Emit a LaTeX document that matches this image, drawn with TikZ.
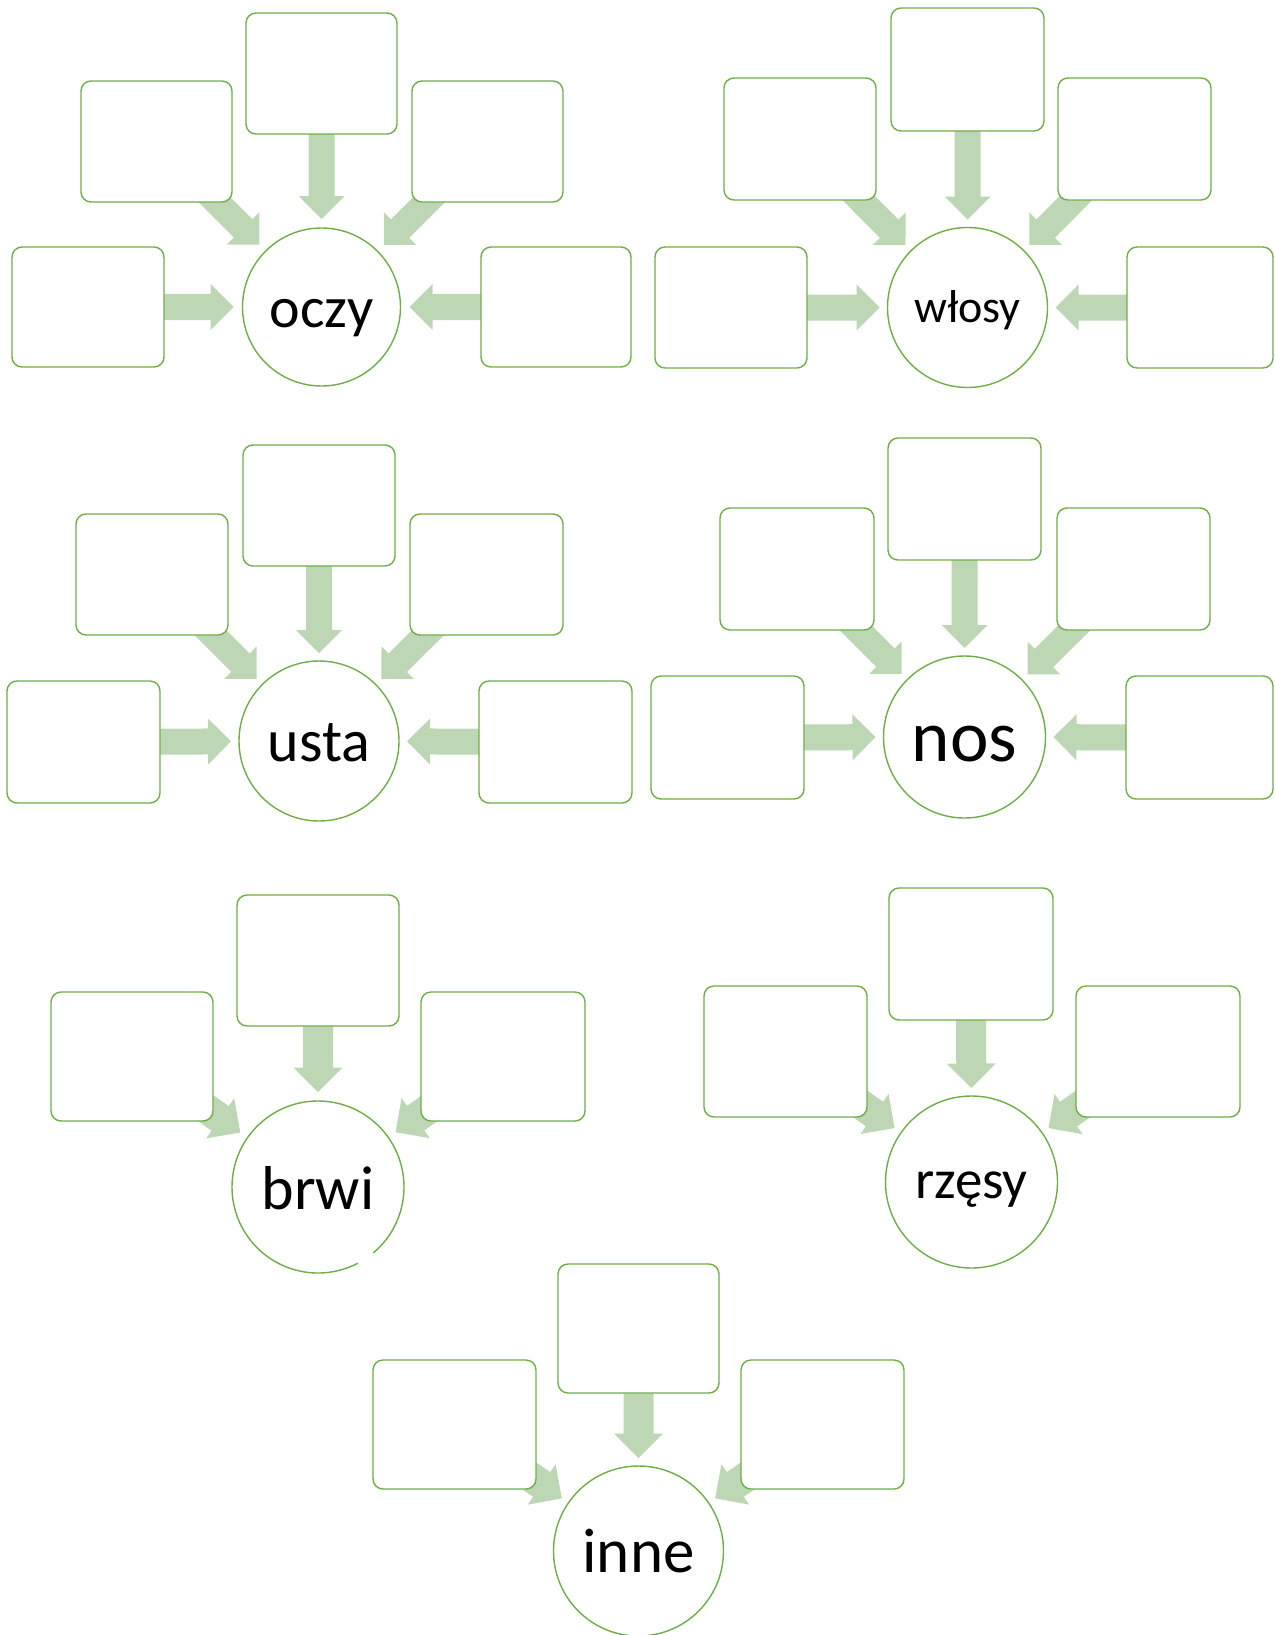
\documentclass[tikz,border=0pt]{standalone}
\usepackage{fontspec}
\setmainfont{Carlito}
\usetikzlibrary{calc}
\pgfdeclarelayer{background}
\pgfsetlayers{background,main}
\definecolor{gline}{HTML}{70AD47}
\definecolor{garr}{HTML}{BDD6B4}
\tikzset{
  bx/.style={draw=gline, line width=1.4pt, fill=white, rounded corners=10pt, inner sep=0pt},
  cir/.style={circle, draw=gline, line width=1.4pt, fill=white, inner sep=0pt, text=black, text depth=0pt},
  cirnd/.style={circle, fill=white, inner sep=0pt, text=black, text depth=0pt},
  ring/.style={draw=gline, line width=1.4pt},
  arr/.style={fill=garr},
}
% box by corners: name, x1, y1, x2, y2
\newcommand\boxat[5]{%
  \pgfmathsetmacro\bw{#4-#2}\pgfmathsetmacro\bh{#5-#3}%
  \node[bx, minimum width=\bw pt, minimum height=\bh pt] (#1) at ({(#2+#4)/2},{(#3+#5)/2}) {};}
% block arrow: box, circle, tip distance, shaft half, head half, head length
\newcommand\blk[6]{%
  \begin{pgfonlayer}{background}
  \pgfmathsetmacro\tipd{#3}\pgfmathsetmacro\backd{#3+#6}%
  \coordinate (T) at ($(#2.center)!\tipd pt!(#1.center)$);
  \coordinate (K) at ($(#2.center)!\backd pt!(#1.center)$);
  \fill[arr] (T) -- ($(K)!#5pt!90:(#1.center)$) -- ($(K)!#4pt!90:(#1.center)$)
    -- ($(#1.center)!#4pt!-90:(K)$) -- ($(#1.center)!#4pt!90:(K)$)
    -- ($(K)!#4pt!-90:(#1.center)$) -- ($(K)!#5pt!-90:(#1.center)$) -- cycle;
  \end{pgfonlayer}}
\begin{document}
\begin{tikzpicture}[x=1pt, y=-1pt]
\useasboundingbox (0,0) rectangle (1274,1635);
% ---------- oczy ----------
\boxat{a1t}{246}{13}{397}{134}
\boxat{a1ul}{81}{81}{232}{202}
\boxat{a1ur}{412}{81}{563}{202}
\boxat{a1l}{12}{247}{164}{367}
\boxat{a1r}{481}{247}{631}{367}
\node[cir, minimum size=158pt, text height=40pt] (c1) at (321.5,307) {\fontsize{58}{60}\selectfont oczy};
\foreach \b in {a1t,a1ul,a1ur,a1l,a1r} {\blk{\b}{c1}{88}{13}{23}{23}}
% ---------- wlosy ----------
\boxat{a2t}{891}{8}{1044}{131}
\boxat{a2ul}{724}{78}{876}{200}
\boxat{a2ur}{1058}{78}{1211}{200}
\boxat{a2l}{655}{247}{807}{368}
\boxat{a2r}{1127}{247}{1273}{368}
\node[cir, minimum size=160pt, text height=29pt] (c2) at (967.5,307.5) {\fontsize{46}{48}\selectfont włosy};
\foreach \b in {a2t,a2ul,a2ur,a2l,a2r} {\blk{\b}{c2}{88}{13}{23}{23}}
% ---------- usta ----------
\boxat{a3t}{243}{445}{395}{566}
\boxat{a3ul}{76}{514}{228}{635}
\boxat{a3ur}{410}{514}{563}{635}
\boxat{a3l}{7}{681}{160}{803}
\boxat{a3r}{479}{681}{632}{803}
\node[cir, minimum size=160pt, text height=40pt] (c3) at (319,741) {\fontsize{60}{62}\selectfont usta};
\foreach \b in {a3t,a3ul,a3ur,a3l,a3r} {\blk{\b}{c3}{88}{13}{23}{23}}
% ---------- nos ----------
\boxat{a4t}{888}{438}{1041}{560}
\boxat{a4ul}{720}{508}{874}{630}
\boxat{a4ur}{1057}{508}{1210}{630}
\boxat{a4l}{651}{676}{804}{799}
\boxat{a4r}{1126}{676}{1273}{799}
\node[cir, minimum size=162pt, text height=48pt] (c4) at (964.5,737) {\fontsize{73}{75}\selectfont nos};
\foreach \b in {a4t,a4ul,a4ur,a4l,a4r} {\blk{\b}{c4}{89}{13}{23}{23}}
% ---------- brwi ----------
\boxat{a5t}{237}{895}{399}{1026}
\boxat{a5ul}{51}{992}{213}{1121}
\boxat{a5ur}{421}{992}{585}{1121}
\node[cirnd, minimum size=172pt, text height=44pt] (c5) at (318,1187) {\fontsize{62}{64}\selectfont brwi};
\draw[ring] ($(c5.center)+(-50:86pt)$) arc[start angle=-50, end angle=297.5, radius=86pt];
\foreach \b in {a5t,a5ul,a5ur} {\blk{\b}{c5}{95}{15}{24.5}{24.5}}
% ---------- rzesy ----------
\boxat{a6t}{889}{888}{1053}{1020}
\boxat{a6ul}{704}{986}{867}{1117}
\boxat{a6ur}{1076}{986}{1240}{1117}
\node[cir, minimum size=172pt, text height=32pt] (c6) at (971.5,1182) {\fontsize{55}{57}\selectfont rzęsy};
\foreach \b in {a6t,a6ul,a6ur} {\blk{\b}{c6}{94}{15}{24.5}{24.5}}
% ---------- inne ----------
\boxat{a7t}{558}{1264}{719}{1393}
\boxat{a7ul}{373}{1360}{536}{1489}
\boxat{a7ur}{741}{1360}{904}{1489}
\node[cir, minimum size=170pt, text height=42pt] (c7) at (638.5,1551) {\fontsize{63}{65}\selectfont inne};
\foreach \b in {a7t,a7ul,a7ur} {\blk{\b}{c7}{93}{15}{24.5}{24.5}}
\end{tikzpicture}
\end{document}
